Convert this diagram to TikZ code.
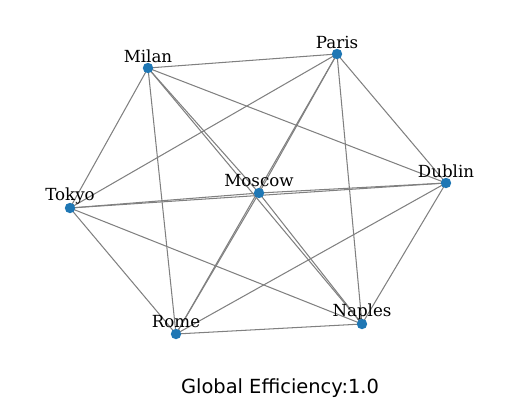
\documentclass[tikz,border=0pt]{standalone}
\usepackage{fontspec}
\setmainfont{DejaVu Serif}
\newfontfamily\titlefont{DejaVu Sans}
\definecolor{dotblue}{HTML}{1F77B4}
\begin{document}
\begin{tikzpicture}[x=0.72pt, y=-0.72pt,
    edge/.style={draw=gray, line width=0.75pt},
    dot/.style={circle, fill=dotblue, inner sep=0pt, minimum size=7.5pt},
    lab/.style={font=\fontsize{12}{14}\selectfont, inner sep=0pt}]
    \useasboundingbox (0,0) rectangle (515,407);

    % cities
    \coordinate (milan) at (148,68);
    \coordinate (paris) at (337,54);
    \coordinate (dublin) at (446,183);
    \coordinate (moscow) at (259,193);
    \coordinate (tokyo) at (70,208);
    \coordinate (rome) at (176,334);
    \coordinate (naples) at (362,324);

    % every pair is linked
    \foreach \a/\b in {milan/paris, milan/dublin, milan/moscow, milan/tokyo, milan/rome, milan/naples,
                       paris/dublin, paris/moscow, paris/tokyo, paris/rome, paris/naples,
                       dublin/moscow, dublin/tokyo, dublin/rome, dublin/naples,
                       moscow/tokyo, moscow/rome, moscow/naples,
                       tokyo/rome, tokyo/naples,
                       rome/naples}
        \draw[edge] (\a) -- (\b);

    \node[lab] (milanlab) at ([yshift=12*0.72pt]milan) {Milan};
    \node[lab] (parislab) at ([yshift=12*0.72pt]paris) {Paris};
    \node[lab] (dublinlab) at ([yshift=12*0.72pt]dublin) {Dublin};
    \node[lab] (moscowlab) at ([yshift=12*0.72pt]moscow) {Moscow};
    \node[lab] (tokyolab) at ([yshift=12*0.72pt]tokyo) {Tokyo};
    \node[lab] (romelab) at ([yshift=12*0.72pt]rome) {Rome};
    \node[lab] (napleslab) at ([yshift=12*0.72pt]naples) {Naples};

    \foreach \c in {milan, paris, dublin, moscow, tokyo, rome, naples}
        \node[dot] (\c dot) at (\c) {};

    \node[font=\titlefont\fontsize{14}{16}\selectfont, inner sep=0pt] (title) at (280,388) {Global Efficiency:1.0};
\end{tikzpicture}
\end{document}
